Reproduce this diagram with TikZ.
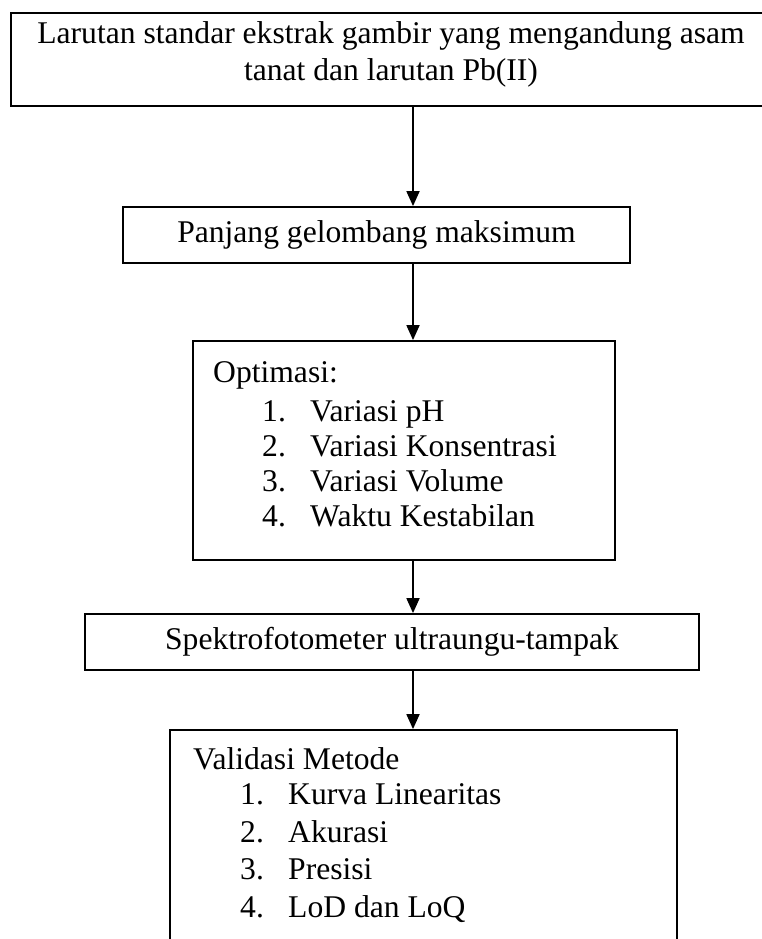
\documentclass[tikz,border=0pt]{standalone}
\usepackage{fontspec}
\setmainfont{Liberation Serif}
\usetikzlibrary{positioning, arrows.meta, calc}

\tikzset{
  flowbox/.style={draw, line width=1.8pt, inner sep=0pt},
  flowarrow/.style={line width=1.8pt, -{Triangle[length=15pt,width=13pt]}},
  itemtext/.style={anchor=base west, inner sep=0pt},
  linetext/.style={anchor=base, inner sep=0pt},
}

\begin{document}
\begin{tikzpicture}[x=1pt, y=-1pt, font=\fontsize{31.6}{37}\selectfont]
    \useasboundingbox (0,0) rectangle (761,939);

    % column of the arrows
    \coordinate (ax) at (413,0);

    % Larutan standar block
    \node[flowbox, minimum width=760pt, minimum height=93pt] (larutan) at (391,59.5) {};
    \node[linetext] (larutan1) at (391,44) {Larutan standar ekstrak gambir yang mengandung asam};
    \node[linetext] (larutan2) at (391,81) {tanat dan larutan Pb(II)};

    % Panjang gelombang block
    \node[flowbox, minimum width=507pt, minimum height=56pt] (panjang) at (376.5,235) {Panjang gelombang maksimum};

    % Optimasi block
    \node[flowbox, minimum width=422pt, minimum height=219pt] (optimasi) at (404,450.5) {};
    \node[itemtext] (optitle) at (213,382) {Optimasi:};
    \foreach \n/\t/\y in {1/Variasi pH/421, 2/Variasi Konsentrasi/456, 3/Variasi Volume/491, 4/Waktu Kestabilan/526} {
        \node[itemtext] (optnum\n) at (262,\y) {\n.};
        \node[itemtext] (opt\n) at (310,\y) {\t};
    }

    % Spektrofotometer block
    \node[flowbox, minimum width=614pt, minimum height=56pt] (spektro) at (392,642) {Spektrofotometer ultraungu-tampak};

    % Validasi block (runs off the page)
    \node[flowbox, minimum width=507pt, minimum height=240pt] (validasi) at (423.5,850) {};
    \node[itemtext] (valtitle) at (193,769) {Validasi Metode};
    \foreach \n/\t/\y in {1/Kurva Linearitas/804, 2/Akurasi/842, 3/Presisi/879, 4/LoD dan LoQ/917} {
        \node[itemtext] (valnum\n) at (240,\y) {\n.};
        \node[itemtext] (val\n) at (288,\y) {\t};
    }

    % Arrows
    \draw[flowarrow] (larutan.south -| ax) -- (panjang.north -| ax);
    \draw[flowarrow] (panjang.south -| ax) -- (optimasi.north -| ax);
    \draw[flowarrow] (optimasi.south -| ax) -- (spektro.north -| ax);
    \draw[flowarrow] (spektro.south -| ax) -- (validasi.north -| ax);
\end{tikzpicture}
\end{document}
